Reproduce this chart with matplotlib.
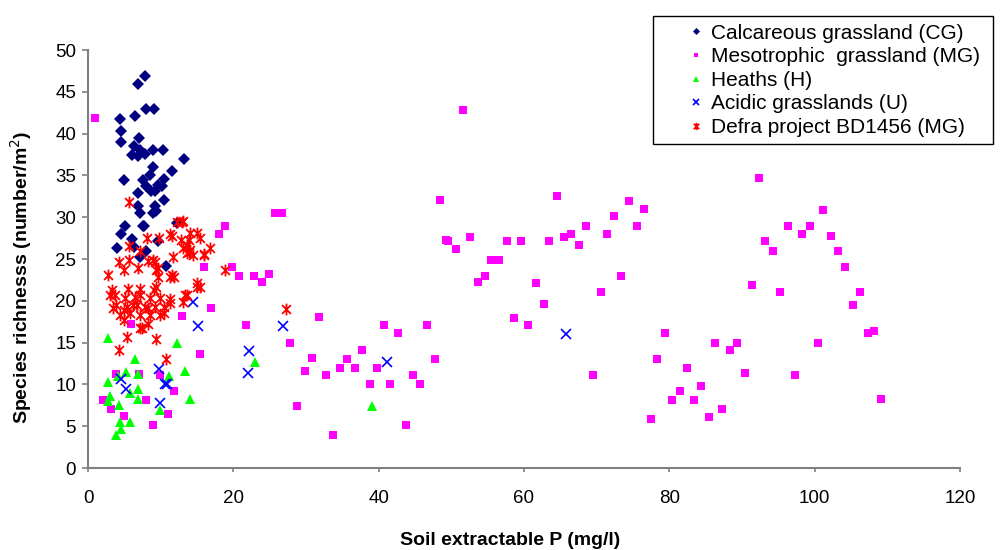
import matplotlib
matplotlib.use("Agg")
import matplotlib.pyplot as plt
from matplotlib.path import Path
from matplotlib.patches import Rectangle

plt.rcParams['font.family'] = ['Liberation Sans', 'DejaVu Sans']

# ---- data ----
cg_x = [7.9, 6.9, 8.0, 9.1, 4.45, 6.4, 4.6, 7.0, 4.6, 6.3, 7.1, 6.0, 7.8, 8.9, 10.3, 13.2,
        6.9, 11.6, 8.9, 8.5, 10.5, 5.0, 7.6, 8.0, 9.6, 10.2, 8.7, 9.2, 6.9, 10.5, 9.2, 6.9,
        9.4, 7.1, 8.9, 5.1, 7.7, 4.6, 6.0, 4.0, 7.1, 8.0, 9.7, 10.7, 12.2, 6.3, 7.6]
cg_y = [46.9, 45.9, 42.9, 42.9, 41.8, 42.1, 40.3, 39.5, 39.0, 38.5, 38.0, 37.4, 37.6, 38.0, 38.0, 37.0,
        37.3, 35.5, 36.0, 35.0, 34.6, 34.4, 34.5, 33.7, 33.8, 33.7, 33.1, 33.1, 32.9, 32.1, 31.3, 31.3,
        30.8, 30.5, 30.5, 28.9, 29.0, 28.0, 27.4, 26.3, 25.2, 26.0, 27.2, 24.2, 29.3, 26.5, 28.9]

mg_x = [1.0, 51.6, 48.5, 49.3, 25.8, 26.7, 18.8, 18.0, 15.9, 19.8, 20.8, 22.8, 24.9, 23.9,
        16.9, 21.8, 31.8, 27.8, 15.4, 30.8, 29.8, 32.8, 35.7, 34.7, 36.7, 37.7, 40.8, 42.7,
        46.7, 47.8, 39.8, 38.8, 41.6, 44.7, 45.7, 28.8, 33.7, 43.7,
        64.5, 74.5, 76.5, 72.4, 75.5, 68.6, 71.4, 66.5, 65.5, 63.5, 59.6, 57.6, 52.6, 49.6,
        50.6, 67.5, 55.5, 56.5, 54.7, 53.7, 61.6, 73.4, 70.6, 62.7, 58.6, 60.6, 79.4, 78.3,
        82.4, 69.5, 84.4, 81.4, 80.4, 83.4, 77.5, 85.5,
        92.4, 101.2, 96.3, 99.3, 98.3, 102.2, 93.2, 94.2, 103.2, 104.2, 91.4, 95.2, 106.3,
        105.3, 107.3, 108.1, 86.3, 89.3, 88.3, 100.4, 90.4, 97.3, 109.1, 87.3,
        12.9, 5.9, 3.8, 7.0, 9.9, 11.8, 2.0, 8.0, 3.1, 11.0, 4.9, 9.0]
mg_y = [41.9, 42.8, 32.1, 27.3, 30.5, 30.5, 29.0, 28.0, 24.1, 24.1, 23.0, 23.0, 23.2, 22.3,
        19.1, 17.1, 18.1, 15.0, 13.6, 13.2, 11.6, 11.1, 13.0, 12.0, 12.0, 14.1, 17.1, 16.1,
        17.1, 13.0, 12.0, 10.0, 10.0, 11.1, 10.0, 7.4, 4.0, 5.1,
        32.5, 32.0, 31.0, 30.1, 29.0, 28.9, 28.0, 28.0, 27.6, 27.1, 27.1, 27.1, 27.6, 27.2,
        26.2, 26.7, 24.9, 24.9, 23.0, 22.3, 22.1, 23.0, 21.0, 19.6, 18.0, 17.1, 16.1, 13.0,
        12.0, 11.1, 9.8, 9.2, 8.1, 8.1, 5.9, 6.1,
        34.7, 30.9, 29.0, 29.0, 28.0, 27.8, 27.1, 26.0, 26.0, 24.1, 21.9, 21.0, 21.0,
        19.5, 16.1, 16.4, 15.0, 15.0, 14.1, 15.0, 11.4, 11.1, 8.3, 7.1,
        18.2, 17.2, 11.2, 11.2, 11.1, 9.2, 8.1, 8.1, 7.1, 6.5, 6.2, 5.1]

h_x = [2.7, 12.3, 6.5, 13.4, 23.0, 5.2, 6.9, 11.2, 2.8, 4.1, 6.9, 5.8, 3.0, 2.8, 4.2, 6.9,
       14.0, 9.9, 4.4, 5.8, 4.6, 3.9, 39.1]
h_y = [15.6, 15.0, 13.0, 11.6, 12.7, 11.5, 11.2, 11.0, 10.3, 11.0, 9.4, 9.0, 8.6, 8.0, 7.6, 8.2,
       8.3, 7.0, 5.5, 5.5, 4.7, 3.9, 7.4]

u_x = [15.2, 22.2, 22.0, 9.8, 4.5, 10.6, 10.9, 5.2, 9.9, 14.4, 26.9, 41.1, 65.8]
u_y = [17.0, 14.0, 11.4, 11.9, 10.6, 10.0, 10.1, 9.4, 7.8, 19.9, 17.0, 12.7, 16.0]

d_x = [5.7, 12.2, 12.9, 13.1, 8.1, 9.8, 11.3, 12.8, 13.9, 15.0, 14.0, 15.4, 11.5,
       5.6, 7.2, 13.1, 13.6, 14.0, 13.9, 14.5, 16.8, 16.0, 15.9,
       4.3, 5.7, 8.3, 9.0, 9.2, 11.7, 13.6,
       2.8, 4.9, 6.9, 9.4, 9.7, 11.5, 9.7, 11.3, 11.9, 18.9, 15.0,
       3.3, 5.5, 7.2, 9.1, 9.4, 15.0, 15.4,
       3.0, 3.7, 5.1, 6.5, 7.2, 8.5, 9.9, 11.3, 13.3, 13.6, 13.1,
       3.5, 3.9, 4.9, 5.3, 6.2, 6.7, 7.8, 8.3, 9.2, 10.4, 11.3, 27.2,
       4.4, 5.8, 7.2, 8.5, 9.9, 10.4,
       4.9, 8.3, 7.2, 7.4, 5.4, 9.4, 4.2, 10.7]
d_y = [31.8, 29.4, 29.4, 29.5, 27.5, 27.5, 28.0, 27.3, 27.3, 28.1, 28.1, 27.5, 27.7,
       26.6, 26.0, 26.3, 26.7, 26.1, 25.9, 25.5, 26.3, 25.6, 25.5,
       24.7, 24.9, 24.8, 24.9, 24.7, 25.3, 25.7,
       23.1, 23.7, 23.9, 23.7, 23.9, 23.1, 22.9, 22.9, 22.9, 23.7, 22.1,
       21.3, 21.4, 21.4, 21.3, 21.7, 21.6, 21.7,
       20.7, 20.7, 20.3, 20.5, 20.7, 20.3, 20.3, 20.2, 20.7, 20.7, 19.9,
       19.1, 19.5, 18.9, 19.3, 19.5, 19.5, 19.3, 19.1, 19.3, 19.3, 19.7, 19.0,
       18.3, 18.5, 18.3, 18.3, 18.3, 18.5,
       17.7, 17.2, 16.8, 16.7, 15.7, 15.4, 14.1, 13.0]

labels = ["Calcareous grassland (CG)", "Mesotrophic  grassland (MG)", "Heaths (H)",
          "Acidic grasslands (U)", "Defra project BD1456 (MG)"]
x_ticks = [0, 20, 40, 60, 80, 100, 120]
y_ticks = [0, 5, 10, 15, 20, 25, 30, 35, 40, 45, 50]

# Excel-like star marker: X plus a vertical bar
star = Path([(0, -1), (0, 1), (-0.75, -0.75), (0.75, 0.75), (-0.75, 0.75), (0.75, -0.75)],
            [Path.MOVETO, Path.LINETO, Path.MOVETO, Path.LINETO, Path.MOVETO, Path.LINETO])

fig = plt.figure(figsize=(10, 5.5), dpi=100)
ax = fig.add_axes([0.088, 0.149, 0.872, 0.760])

ax.plot(cg_x, cg_y, linestyle='none', marker='D', markersize=6.0, color='#000080',
        markeredgewidth=0, label=labels[0], zorder=3)
ax.plot(mg_x, mg_y, linestyle='none', marker='s', markersize=6.0, color='#FF00FF',
        markeredgewidth=0, label=labels[1], zorder=4)
ax.plot(h_x, h_y, linestyle='none', marker='^', markersize=7.5, color='#00FF00',
        markeredgewidth=0, label=labels[2], zorder=5)
ax.plot(u_x, u_y, linestyle='none', marker='x', markersize=6.5, color='#0000FF',
        markeredgewidth=1.2, label=labels[3], zorder=6)
ax.plot(d_x, d_y, linestyle='none', marker=star, markersize=8.5, color='#FF0000',
        markeredgewidth=1.3, label=labels[4], zorder=7)

ax.set_xlim(0, 120)
ax.set_ylim(0, 50)
ax.set_xticks(x_ticks)
ax.set_yticks(y_ticks)
ax.tick_params(axis='both', labelsize=13.5, colors='black', direction='out', color='#808080', width=1.2)
ax.tick_params(axis='y', length=4.5, pad=4)
ax.tick_params(axis='x', length=3, pad=13)

for s in ['top', 'right']:
    ax.spines[s].set_visible(False)
for s in ['left', 'bottom']:
    ax.spines[s].set_color('#808080')
    ax.spines[s].set_linewidth(1.5)

ax.set_xlabel("Soil extractable P (mg/l)", fontsize=14, fontweight='bold')
ax.xaxis.set_label_coords(0.484, -0.153)
ax.set_ylabel("Species richnesss (number/m$^2$)", fontsize=14, fontweight='bold')
ax.yaxis.set_label_coords(-0.062, 0.457)

# legend frame drawn separately (Excel-style wide left margin)
fig.patches.append(Rectangle((0.653, 0.738), 0.340, 0.233, transform=fig.transFigure,
                             facecolor='white', edgecolor='black', linewidth=1.0, zorder=1))
leg = fig.legend(loc='upper left', bbox_to_anchor=(0.688, 0.957), fontsize=15,
                 frameon=False, markerscale=0.6, handlelength=0.8,
                 handletextpad=0.3, borderpad=0, labelspacing=0.22, borderaxespad=0)

fig.savefig("out.png", dpi=100)
